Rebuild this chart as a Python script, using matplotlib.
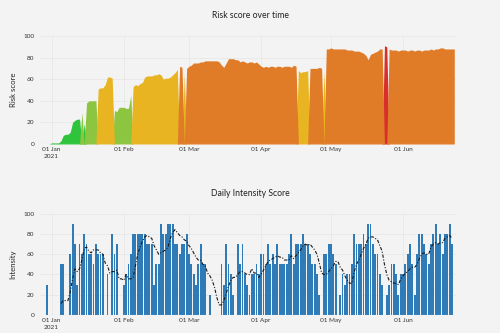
import numpy as np
import pandas as pd
import matplotlib
matplotlib.use("Agg")
import matplotlib.pyplot as plt

plt.rcParams["font.family"] = ["Lato", "DejaVu Sans"]

# -----------------------------
# Data
# -----------------------------
risk_start = "2020-12-27"
risk_scores = [
    0, 0, 0, 0, 0,
    1, 1, 1, 1, 3, 8, 9, 9, 11, 20,
    22, 23, 23, 29, 19, 38, 40, 40, 40, 40,
    51, 52, 52, 55, 62, 62, 61, 31, 30, 34,
    34, 34, 33, 33, 45, 53, 55, 54, 56, 57,
    62, 63, 63, 63, 64, 64, 65, 64, 60, 61,
    61, 62, 64, 66, 69, 72, 71, 66, 70, 72,
    73, 75, 75, 75, 76, 76, 77, 77, 77, 77,
    77, 77, 76, 73, 71, 75, 79, 79, 79, 78,
    78, 76, 77, 76, 75, 76, 76, 75, 76, 74,
    72, 71, 72, 71, 72, 72, 71, 72, 72, 71,
    72, 72, 72, 71, 73, 72, 68, 66, 67, 67,
    68, 70, 70, 70, 70, 71, 70, 68, 88, 88,
    89, 88, 88, 88, 88, 88, 88, 87, 87, 87,
    86, 86, 86, 85, 84, 82, 78, 83, 84, 85,
    86, 88, 88, 91, 90, 88, 87, 87, 87, 86,
    87, 87, 87, 86, 87, 87, 86, 87, 87, 86,
    87, 87, 87, 88, 87, 88, 88, 89, 89, 88,
    88, 88, 88, 88,
]
risk_bins = [25, 50, 70, 90]
risk_colors = ["#2fc43c", "#8cc53f", "#e8b421", "#e07b28", "#d92f2a"]
risk_levels = [0, 1, 2, 4, 3]  # drawing order: red before orange

intensity_start = "2020-12-30"
intensity = [
    30, 0, 0, 0, 0, 0, 50, 50, 0, 0,
    60, 90, 70, 30, 70, 60, 80, 70, 60, 60, 50, 70, 60, 60, 60,
    0, 40, 0, 80, 60, 70, 0, 0,
    30, 40, 50, 60, 80, 80, 80, 80, 80, 80, 70, 70, 70,
    30, 50, 50, 90, 80, 80, 90, 90, 90,
    70, 70, 60, 70, 70, 80, 60, 50, 40, 30, 50, 70, 50, 50,
    0, 20, 0, 0, 0, 0,
    50, 30, 70, 50, 40, 20, 0,
    70, 50, 70, 40, 30,
    20, 40, 40, 50, 40, 60, 60, 50, 70, 50, 60, 50, 70, 50, 50,
    50, 50, 60, 80, 50, 70, 70, 70, 80, 70, 70, 60, 50, 50, 40, 20,
    0, 60, 60, 70, 70, 60, 50, 0,
    20, 40, 30, 40, 40, 50, 80, 70, 70, 70, 80, 70, 90, 90, 70, 60, 60, 40, 30,
    0,
    20, 30, 50, 50, 40, 20, 40, 40, 50, 60, 70, 50, 20, 60, 80,
    80, 70, 60, 50, 70, 80, 90, 70, 80, 60, 80, 80, 90, 70,
]

tick_dates = ["2021-01-01", "2021-02-01", "2021-03-01", "2021-04-01", "2021-05-01", "2021-06-01"]
tick_labels = ["01 Jan\n2021", "01 Feb", "01 Mar", "01 Apr", "01 May", "01 Jun"]
y_ticks = [0, 20, 40, 60, 80, 100]

risk_dates = pd.date_range(risk_start, periods=len(risk_scores), freq="D")
int_dates = pd.date_range(intensity_start, periods=len(intensity), freq="D")
risk = np.array(risk_scores, dtype=float)
level = np.digitize(risk, risk_bins)
rolling = pd.Series(intensity, index=int_dates).rolling(7).mean()

bg = "#f4f3f3"
fig = plt.figure(figsize=(5, 3.33), dpi=100, facecolor=bg)
ax1 = fig.add_axes([0.08, 0.5676, 0.834, 0.3243])
ax2 = fig.add_axes([0.08, 0.054, 0.834, 0.3042])

# -----------------------------
# Plot 1 - risk score coloured by level
# -----------------------------
for lv in risk_levels:
    y = np.where(level == lv, risk, 0)
    ax1.fill_between(risk_dates, 0, y, color=risk_colors[lv], lw=0)

# -----------------------------
# Plot 2 - daily intensity bars + 7 day mean
# -----------------------------
ax2.bar(int_dates, intensity, width=0.8, color="#2f7bb7", lw=0)
ax2.plot(rolling.index, rolling.values, color="#1a1a1a", lw=0.8, ls=(0, (3, 1.5, 1, 1.5)))

xmin = pd.Timestamp("2020-12-27")
xmax = pd.Timestamp("2021-06-24 04:00")
for ax in (ax1, ax2):
    ax.set_facecolor(bg)
    ax.set_xlim(xmin, xmax)
    ax.set_ylim(0, 100)
    ax.set_yticks(y_ticks)
    ax.set_xticks(pd.to_datetime(tick_dates))
    ax.set_xticklabels(tick_labels, fontsize=4.6, color="#333333", linespacing=1.5)
    ax.tick_params(axis="y", labelsize=4.6, labelcolor="#333333", length=0, pad=4)
    ax.tick_params(axis="x", length=0, pad=2.5)
    ax.grid(True, color="#e6e6e6", lw=0.5)
    ax.set_axisbelow(True)
    for s in ax.spines.values():
        s.set_visible(False)
    ax.axhline(0, color="#cfcfcf", lw=0.8, zorder=5)

fig.text(0.5, 1 - 15 / 333, "Risk score over time", ha="center", va="center",
         fontsize=6.2, color="#222222")
fig.text(0.5, 1 - 194 / 333, "Daily Intensity Score", ha="center", va="center",
         fontsize=6.2, color="#222222")
fig.text(13 / 500, 1 - 90 / 333, "Risk score", rotation=90, ha="center", va="center",
         fontsize=5.6, color="#222222")
fig.text(13 / 500, 1 - 264 / 333, "Intensity", rotation=90, ha="center", va="center",
         fontsize=5.6, color="#222222")

fig.savefig("out.png", dpi=100, facecolor=bg)
plt.close(fig)
